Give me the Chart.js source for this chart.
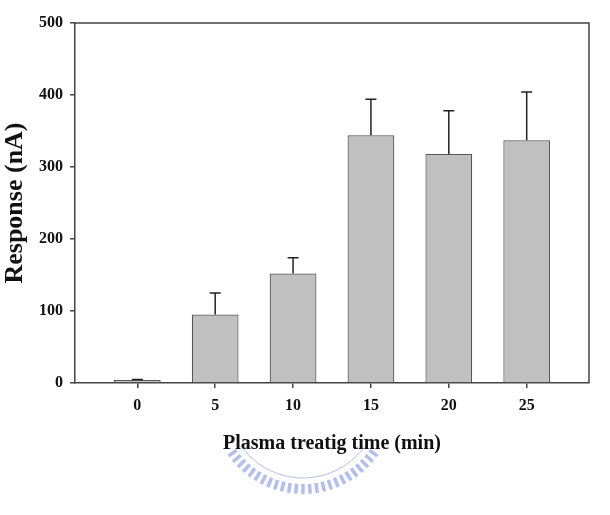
<!DOCTYPE html>
<html>
<head>
<meta charset="utf-8">
<script src="https://cdn.jsdelivr.net/npm/chart.js@4.4.1/dist/chart.umd.min.js"></script>
<style>
  html, body { margin: 0; padding: 0; background: #fff; }
  #wrap { width: 610px; height: 515px; position: relative; }
</style>
</head>
<body>
<div id="wrap"><canvas id="myChart" width="610" height="515"></canvas></div>
<script>
// ----------------------------- data -----------------------------
var times = [0, 5, 10, 15, 20, 25];            // plasma treating time (min)
var response = [4, 95, 152, 344, 318, 337];    // response (nA)
var errUp = [1, 30, 22, 50, 60, 67];           // upper error bar (nA)
var xTicks = [0, 5, 10, 15, 20, 25];
var yTicks = [0, 100, 200, 300, 400, 500];

var serif = "'Liberation Serif', 'Times New Roman', serif";
var ink = '#111';

// error bars + frame + watermark, drawn on top of the bars
var extrasPlugin = {
  id: 'extras',
  afterDatasetsDraw: function (chart) {
    var ctx = chart.ctx;
    var xs = chart.scales.x;
    var ys = chart.scales.y;
    ctx.save();
    ctx.strokeStyle = '#222';
    ctx.lineWidth = 1.5;
    for (var i = 0; i < times.length; i++) {
      var x = xs.getPixelForValue(times[i]);
      var y0 = ys.getPixelForValue(response[i]);
      var y1 = ys.getPixelForValue(response[i] + errUp[i]);
      ctx.beginPath();
      ctx.moveTo(x, y0);
      ctx.lineTo(x, y1);
      ctx.moveTo(x - 5.5, y1);
      ctx.lineTo(x + 5.5, y1);
      ctx.stroke();
    }
    // top and right frame lines
    var a = chart.chartArea;
    ctx.strokeStyle = '#444';
    ctx.lineWidth = 1.5;
    ctx.beginPath();
    ctx.moveTo(a.left, a.top);
    ctx.lineTo(a.right, a.top);
    ctx.lineTo(a.right, a.bottom);
    ctx.stroke();
    ctx.restore();
  },
  afterDraw: function (chart) {
    // faint logo watermark under the x title
    var ctx = chart.ctx;
    var cx = 303, cy = 402;
    ctx.save();
    ctx.globalAlpha = 0.6;
    ctx.strokeStyle = '#7f93e4';
    ctx.lineWidth = 1;
    ctx.beginPath();
    ctx.arc(cx, cy, 76, Math.PI * 0.2, Math.PI * 0.8);
    ctx.stroke();
    ctx.lineWidth = 3.5;
    for (var k = 0; k <= 24; k++) {
      var t = Math.PI * 0.2 + k * (Math.PI * 0.6 / 24);
      ctx.beginPath();
      ctx.moveTo(cx + Math.cos(t) * 82, cy + Math.sin(t) * 82);
      ctx.lineTo(cx + Math.cos(t) * 92, cy + Math.sin(t) * 92);
      ctx.stroke();
    }
    ctx.restore();
  }
};

var ctx = document.getElementById('myChart').getContext('2d');
var myChart = new Chart(ctx, {
  type: 'bar',
  data: {
    datasets: [{
      label: 'Response',
      data: times.map(function (t, i) { return { x: t, y: response[i] }; }),
      backgroundColor: '#c0c0c0',
      borderColor: '#555',
      borderWidth: 1.2,
      barPercentage: 0.6,
      categoryPercentage: 1.0
    }]
  },
  options: {
    responsive: false,
    animation: false,
    layout: { padding: { top: 23, right: 21, left: 0, bottom: 59 } },
    plugins: {
      legend: { display: false },
      tooltip: { enabled: false }
    },
    scales: {
      x: {
        type: 'linear',
        min: -4,
        max: 29,
        offset: false,
        afterBuildTicks: function (scale) {
          scale.ticks = xTicks.map(function (v) { return { value: v }; });
        },
        afterFit: function (scale) { scale.height = 73; },
        grid: { offset: false, drawOnChartArea: false, drawTicks: true, tickLength: 5, color: '#444', lineWidth: 1.5 },
        border: { display: true, color: '#444', width: 1.5 },
        ticks: {
          color: ink,
          padding: 8,
          font: { family: serif, size: 16, weight: 'bold' }
        },
        title: {
          display: true,
          text: 'Plasma treatig time (min)',
          color: ink,
          padding: { top: 10, bottom: 0 },
          font: { family: serif, size: 20, weight: 'bold' }
        }
      },
      y: {
        min: 0,
        max: 500,
        afterBuildTicks: function (scale) {
          scale.ticks = yTicks.map(function (v) { return { value: v }; });
        },
        afterFit: function (scale) { scale.width = 75; },
        grid: { drawOnChartArea: false, drawTicks: true, tickLength: 5, color: '#444', lineWidth: 1.5 },
        border: { display: true, color: '#444', width: 1.5 },
        ticks: {
          color: ink,
          padding: 7,
          font: { family: serif, size: 16, weight: 'bold' }
        },
        title: {
          display: true,
          text: 'Response (nA)',
          color: ink,
          padding: { top: 0, bottom: 0 },
          font: { family: serif, size: 26, weight: 'bold' }
        }
      }
    }
  },
  plugins: [extrasPlugin]
});
</script>
</body>
</html>
